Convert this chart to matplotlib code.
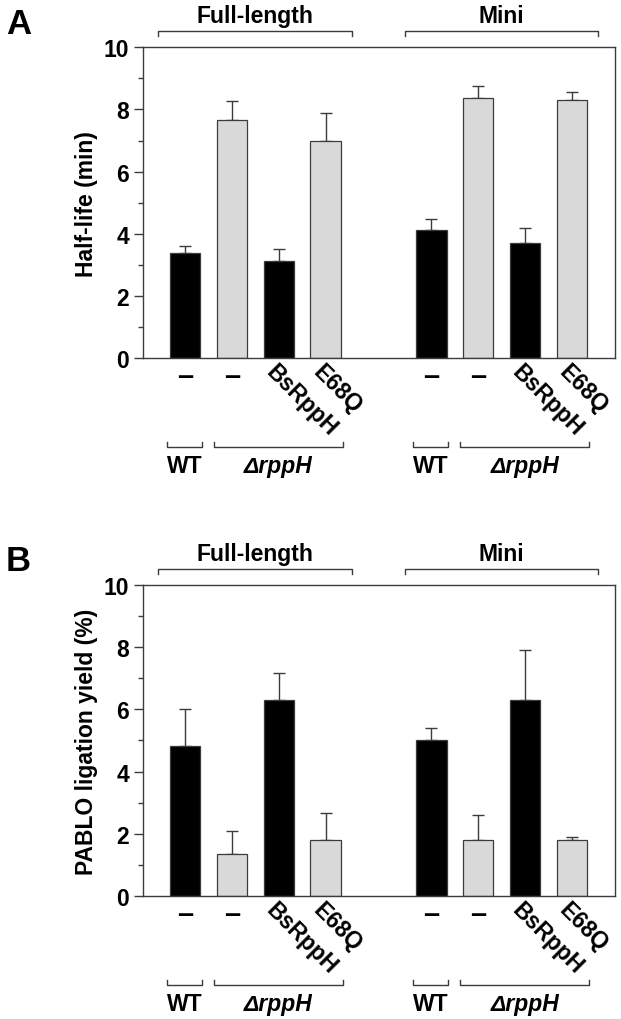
import matplotlib
matplotlib.use("Agg")
import matplotlib.pyplot as plt
from matplotlib.ticker import MultipleLocator
from matplotlib.transforms import blended_transform_factory

plt.rcParams['font.family'] = ['Liberation Sans', 'DejaVu Sans']
plt.rcParams['font.weight'] = 'bold'

# data
constructs = ['–', '–', 'BsRppH', 'E68Q']
strains = ['WT', 'ΔrppH']
groups = ['Full-length', 'Mini']
half_life = [3.37, 7.66, 3.13, 6.97, 4.12, 8.38, 3.69, 8.30]
half_life_err = [0.23, 0.62, 0.37, 0.91, 0.35, 0.39, 0.48, 0.27]
ligation = [4.81, 1.36, 6.30, 1.79, 5.01, 1.79, 6.30, 1.79]
ligation_err = [1.20, 0.73, 0.86, 0.87, 0.38, 0.82, 1.60, 0.10]

bar_colors = ['black', '#d9d9d9', 'black', '#d9d9d9']
line_col = '#3c3c3c'
group_step = 5.25
width = 0.65
fs = 16.5
xpos = [g * group_step + i for g in range(len(groups)) for i in range(len(constructs))]


def draw_panel(ax, values, errs, ylabel, letter):
    colors = bar_colors * len(groups)
    ax.errorbar(xpos, values, yerr=[[0] * len(errs), errs], fmt='none',
                ecolor=line_col, elinewidth=1.0, capsize=4, capthick=1.0, zorder=1)
    ax.bar(xpos, values, width=width, color=colors, edgecolor=line_col,
           linewidth=0.9, zorder=2)
    ax.set_xlim(-0.9, 9.165)
    ax.set_ylim(0, 10)
    ax.yaxis.set_major_locator(MultipleLocator(2))
    ax.yaxis.set_minor_locator(MultipleLocator(1))
    ax.set_xticks([])
    for s in ax.spines.values():
        s.set_color(line_col)
        s.set_linewidth(1.0)
    ax.tick_params(axis='y', which='major', length=6.8, width=1.0, color=line_col,
                   labelsize=fs, pad=3)
    ax.tick_params(axis='y', which='minor', length=3.6, width=1.0, color=line_col)
    for lab in ax.get_yticklabels():
        lab.set_fontweight('bold')
    ax.set_ylabel(ylabel, fontsize=fs, fontweight='bold', labelpad=4)

    tr = blended_transform_factory(ax.transData, ax.transAxes)
    kw = dict(transform=tr, clip_on=False, color=line_col, lw=1.0)

    # group brackets above
    for g, name in enumerate(groups):
        x0 = g * group_step - 0.57
        x1 = g * group_step + 3.56
        ax.plot([x0, x0, x1, x1], [1.036, 1.0525, 1.0525, 1.036], **kw)
        ax.text((x0 + x1) / 2, 1.080, name, transform=tr, ha='center',
                va='baseline', fontsize=fs, fontweight='bold')

    # construct labels and strain brackets below
    for g in range(len(groups)):
        base = g * group_step
        for i, lab in enumerate(constructs):
            x = base + i
            if lab == '–':
                ax.text(x, -0.058, lab, transform=tr, ha='center', va='center',
                        fontsize=21, fontweight='bold')
            else:
                ax.text(x - 0.02, -0.005, lab, transform=tr, ha='left', va='top',
                        rotation=-45, rotation_mode='anchor', fontsize=fs,
                        fontweight='bold')
        spans = [(base - 0.38, base + 0.36), (base + 0.62, base + 3.36)]
        for (x0, x1), name in zip(spans, strains):
            ax.plot([x0, x0, x1, x1], [-0.270, -0.2865, -0.2865, -0.270], **kw)
            style = 'italic' if name.startswith('Δ') else 'normal'
            ax.text((x0 + x1) / 2, -0.346, name, transform=tr, ha='center',
                    va='center', fontsize=fs, fontweight='bold', style=style)

    ax.text(-0.29, 1.078, letter, transform=ax.transAxes, ha='left',
            va='center', fontsize=25, fontweight='bold')


fig = plt.figure(figsize=(6.21, 10.20), dpi=100)
ax_a = fig.add_axes([0.2298, 0.648, 0.7605, 0.3046])
ax_b = fig.add_axes([0.2298, 0.1206, 0.7605, 0.305])
draw_panel(ax_a, half_life, half_life_err, 'Half-life (min)', 'A')
draw_panel(ax_b, ligation, ligation_err, 'PABLO ligation yield (%)', 'B')

fig.savefig('out.png', dpi=100)
